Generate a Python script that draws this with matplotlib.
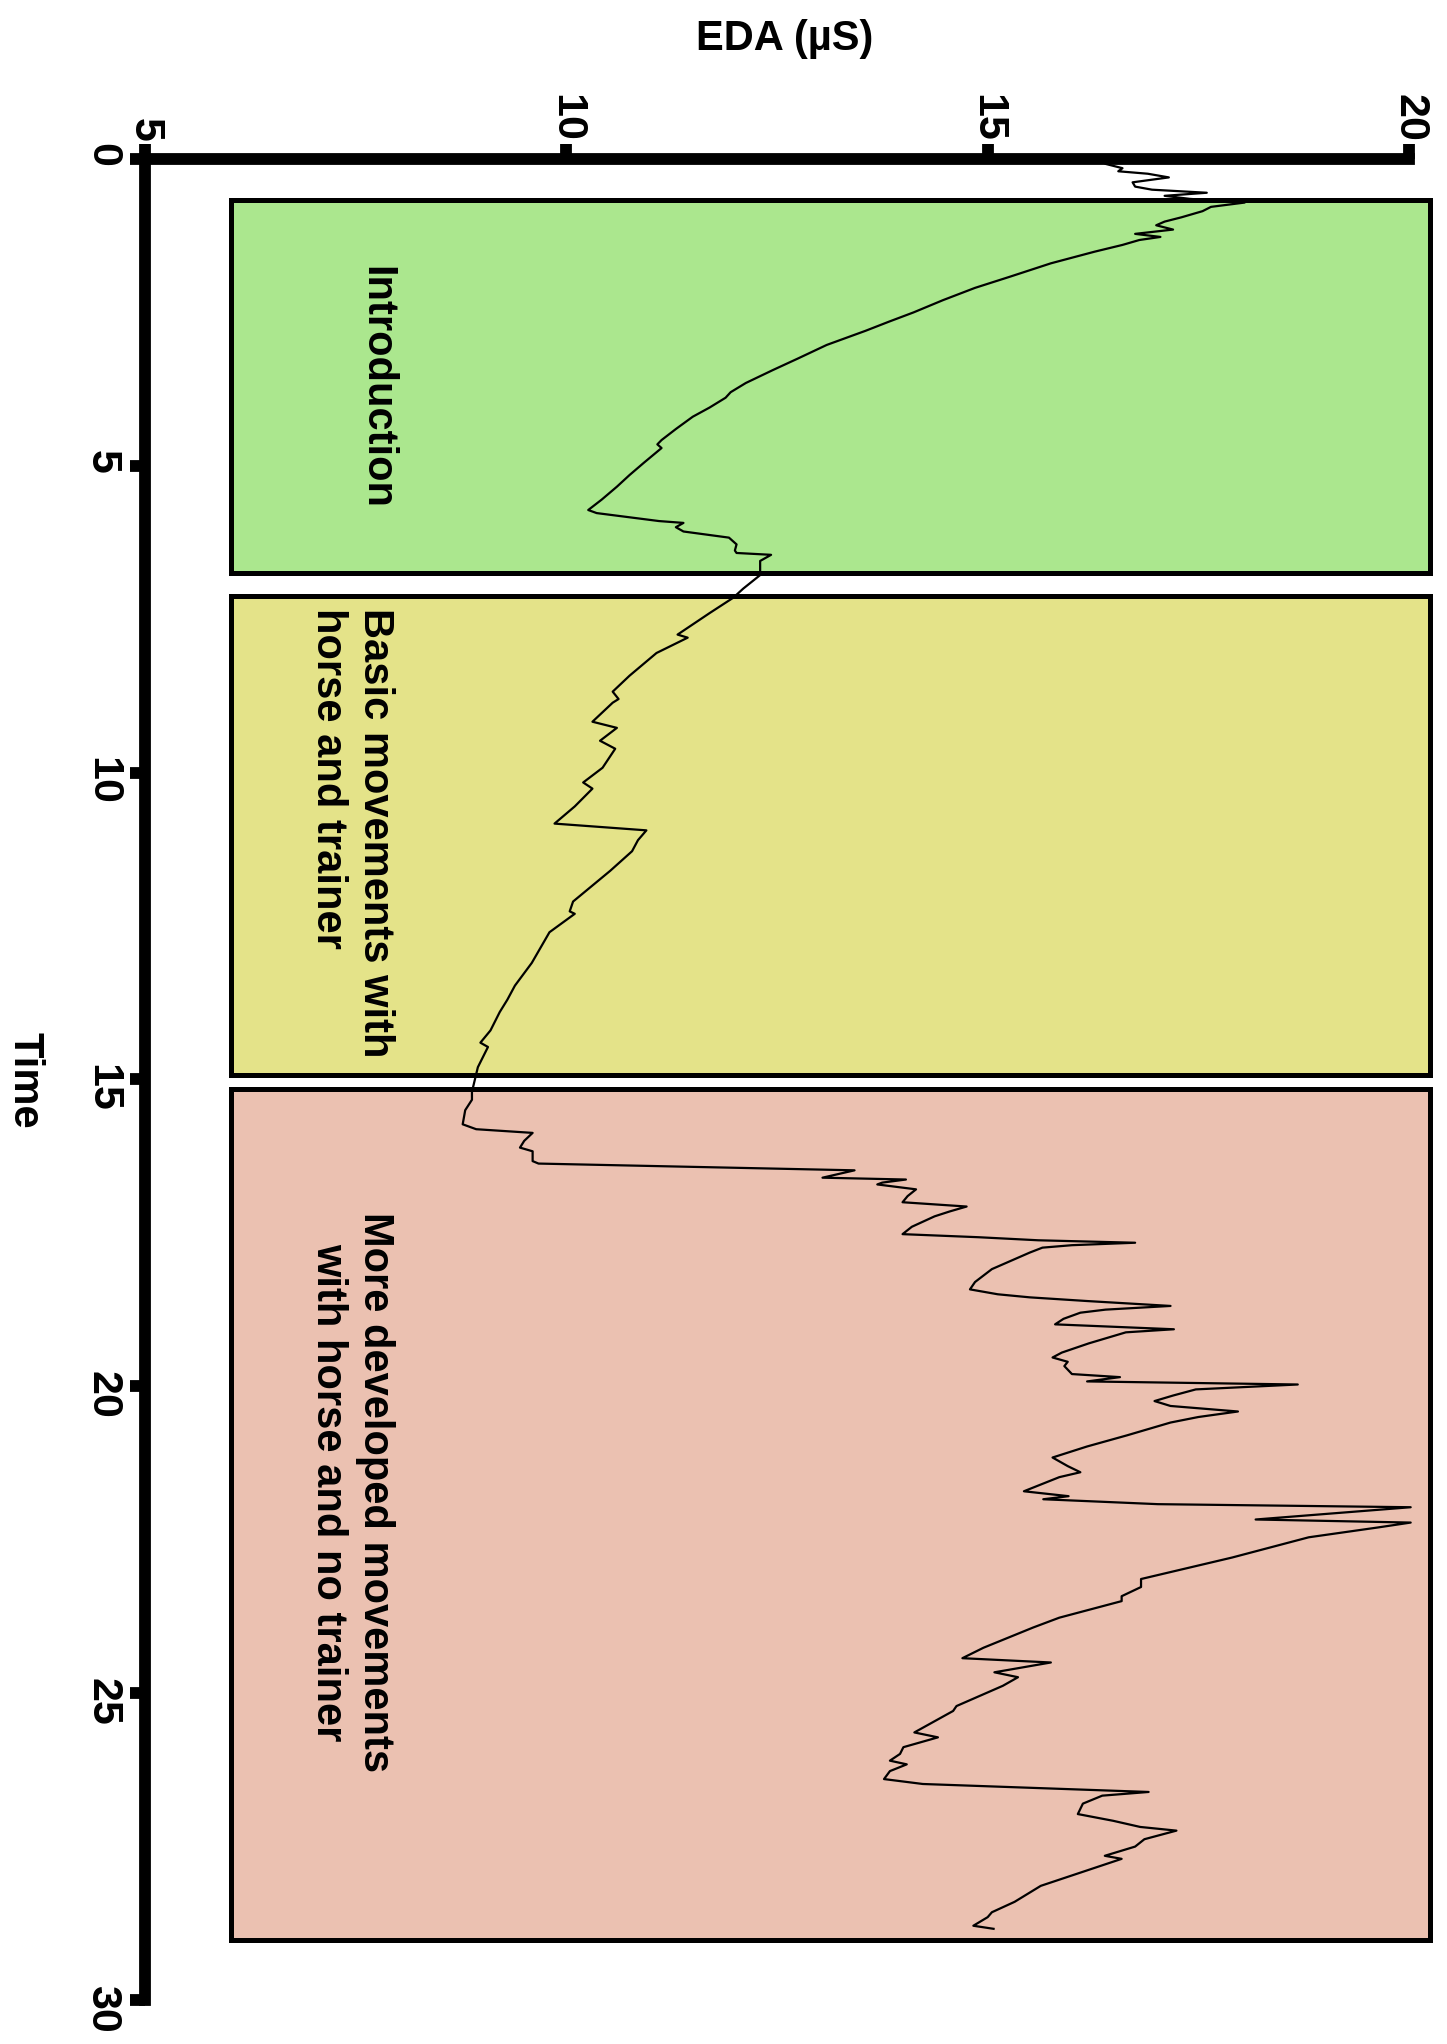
import matplotlib
matplotlib.use("Agg")
import matplotlib.pyplot as plt
from matplotlib.patches import Rectangle

plt.rcParams['font.family'] = ['Liberation Sans Narrow', 'Liberation Sans', 'DejaVu Sans']
plt.rcParams['font.weight'] = 'bold'

# ---- data ----
time_min = [0.00, 0.08, 0.15, 0.20, 0.24, 0.30, 0.38, 0.45, 0.50, 0.55, 0.60, 0.65, 0.71, 0.78, 0.85,
            0.95, 1.02, 1.08, 1.15, 1.22, 1.27, 1.32, 1.40, 1.51, 1.70, 1.92, 2.10, 2.30, 2.50, 2.65,
            2.80, 3.03, 3.25, 3.44, 3.65, 3.80, 3.89, 4.05, 4.20, 4.40, 4.58, 4.65, 4.71, 4.95, 5.15,
            5.34, 5.55, 5.72, 5.77, 5.85, 5.90, 5.93, 6.00, 6.07, 6.17, 6.28, 6.38, 6.42, 6.45, 6.55,
            6.64, 6.78, 7.00, 7.15, 7.40, 7.75, 7.80, 8.05, 8.42, 8.68, 8.80, 8.86, 9.17, 9.27, 9.48,
            9.61, 9.92, 10.16, 10.26, 10.55, 10.83, 10.94, 11.10, 11.28, 11.60, 11.85, 12.10, 12.26, 12.30,
            12.60, 13.10, 13.47, 13.70, 13.90, 14.20, 14.40, 14.47, 14.80, 15.20, 15.33, 15.50, 15.73, 15.81,
            15.87, 16.00, 16.11, 16.17, 16.33, 16.37, 16.47, 16.48, 16.55, 16.60, 16.63, 16.68, 16.71, 16.79,
            16.90, 17.00, 17.07, 17.15, 17.23, 17.40, 17.52, 17.57, 17.62, 17.66, 17.70, 17.74, 17.82, 18.00,
            18.09, 18.30, 18.42, 18.50, 18.55, 18.61, 18.69, 18.75, 18.80, 18.90, 18.99, 19.07, 19.12, 19.30,
            19.45, 19.53, 19.60, 19.67, 19.80, 19.85, 19.92, 19.97, 20.05, 20.15, 20.24, 20.32, 20.41, 20.50,
            20.59, 20.80, 20.98, 21.16, 21.30, 21.40, 21.48, 21.71, 21.79, 21.84, 21.92, 21.97, 22.17, 22.22,
            22.30, 22.46, 22.79, 23.01, 23.14, 23.27, 23.42, 23.50, 23.77, 23.93, 24.26, 24.43, 24.50, 24.66,
            24.74, 24.88, 25.21, 25.29, 25.64, 25.72, 25.88, 25.99, 26.10, 26.16, 26.27, 26.40, 26.48, 26.61,
            26.67, 26.80, 26.97, 27.08, 27.18, 27.24, 27.38, 27.50, 27.65, 27.70, 28.14, 28.40, 28.57, 28.65,
            28.79, 28.84]
eda_us = [16.30, 16.40, 16.60, 16.55, 16.90, 17.15, 16.72, 16.75, 16.95, 17.60, 17.10, 17.40, 18.05, 17.65, 17.55,
          17.30, 17.10, 17.00, 17.20, 16.75, 17.05, 16.80, 16.60, 16.27, 15.75, 15.26, 14.85, 14.47, 14.12, 13.83,
          13.55, 13.09, 12.75, 12.45, 12.13, 11.95, 11.89, 11.70, 11.50, 11.30, 11.13, 11.08, 11.13, 10.92, 10.75,
          10.60, 10.42, 10.26, 10.36, 10.81, 11.10, 11.39, 11.30, 11.39, 11.93, 12.02, 12.00, 12.02, 12.43, 12.30,
          12.30, 12.30, 12.10, 11.98, 11.70, 11.32, 11.44, 11.07, 10.75, 10.55, 10.62, 10.55, 10.31, 10.60, 10.40,
          10.58, 10.43, 10.20, 10.31, 10.10, 9.86, 10.95, 10.85, 10.78, 10.52, 10.30, 10.08, 10.04, 10.10,
          9.80, 9.59, 9.39, 9.30, 9.21, 9.10, 8.98, 9.07, 8.95, 8.88, 8.88, 8.80, 8.77, 8.93,
          9.60, 9.50, 9.45, 9.60, 9.60, 9.67, 13.08, 13.42, 13.20, 13.04, 14.03, 13.75, 13.69, 14.15,
          14.05, 13.99, 14.75, 14.55, 14.37, 14.10, 13.99, 14.89, 15.60, 16.75, 16.00, 15.65, 15.50, 15.20,
          15.05, 14.85, 14.79, 15.12, 15.50, 16.18, 17.17, 16.40, 16.10, 15.90, 15.80, 17.21, 16.64, 16.20,
          15.88, 15.77, 15.95, 15.91, 16.00, 16.57, 16.18, 18.68, 17.47, 17.20, 16.98, 17.17, 17.97, 17.50,
          17.17, 16.65, 16.18, 15.77, 15.95, 16.10, 15.85, 15.43, 15.96, 15.66, 17.02, 20.02, 18.18, 20.02,
          19.63, 18.81, 17.90, 17.22, 16.82, 16.82, 16.59, 16.59, 15.85, 15.54, 14.95, 14.70, 15.75, 15.08,
          15.36, 15.18, 14.63, 14.59, 14.13, 14.41, 14.00, 13.96, 13.84, 14.04, 13.84, 13.77, 14.23, 16.91,
          16.36, 16.13, 16.07, 16.49, 16.81, 17.24, 16.86, 16.75, 16.39, 16.59, 15.63, 15.32, 15.05, 15.00,
          14.83, 15.07]

phase_labels = ["Introduction",
                "Basic movements with\nhorse and trainer",
                "More developed movements\nwith horse and no trainer"]
phase_start = [0.67, 7.12, 15.15]
phase_end = [6.74, 14.92, 29.02]
phase_colors = ["#ABE78E", "#E4E389", "#EBC1B1"]
phase_align = ["center", "left", "center"]
phase_label_t = [3.72, 10.98, 21.72]

eda_ticks = [5, 10, 15, 20]
time_ticks = [0, 5, 10, 15, 20, 25, 30]

# ---- figure ----
W, H = 1447, 2044
fig = plt.figure(figsize=(W / 100, H / 100), dpi=100)
ax = fig.add_axes([145 / W, 1 - 2000 / H, 1264 / W, (2000 - 159) / H])
ax.set_xlim(5, 20)
ax.set_ylim(30, 0)
ax.patch.set_alpha(0)

box_left, box_right = 6.02, 20.25
for s, e, c in zip(phase_start, phase_end, phase_colors):
    r = Rectangle((box_left, s), box_right - box_left, e - s, facecolor=c,
                  edgecolor='black', linewidth=3.6, clip_on=False, zorder=1)
    ax.add_patch(r)

for lab, t, al in zip(phase_labels, phase_label_t, phase_align):
    ax.text(7.45 if '\n' in lab else 7.75, t, lab, rotation=-90, ha='center', va='center',
            multialignment=al, fontsize=30, fontweight='bold', zorder=3)

ax.plot(eda_us, time_min, color='black', linewidth=1.6, clip_on=False, zorder=4)

for side in ['bottom', 'right']:
    ax.spines[side].set_visible(False)
for side in ['top', 'left']:
    ax.spines[side].set_linewidth(8.5)
    ax.spines[side].set_capstyle('projecting')
    ax.spines[side].set_zorder(5)

ax.xaxis.tick_top()
ax.set_xticks(eda_ticks)
ax.set_yticks(time_ticks)
ax.tick_params(axis='both', direction='out', length=10.5, width=8.5, labelsize=31)
ax.tick_params(axis='x', pad=2, labelrotation=-90)
ax.tick_params(axis='y', pad=6, labelrotation=-90)
for lbl in ax.get_xticklabels() + ax.get_yticklabels():
    lbl.set_fontweight('bold')

fig.text(785 / W, 1 - 39 / H, "EDA (µS)", ha='center', va='center', fontsize=30, fontweight='bold')
fig.text(24 / W, 1 - 1080 / H, "Time", ha='center', va='center', rotation=-90, fontsize=30,
         fontweight='bold')

fig.savefig("out.png", dpi=100)
